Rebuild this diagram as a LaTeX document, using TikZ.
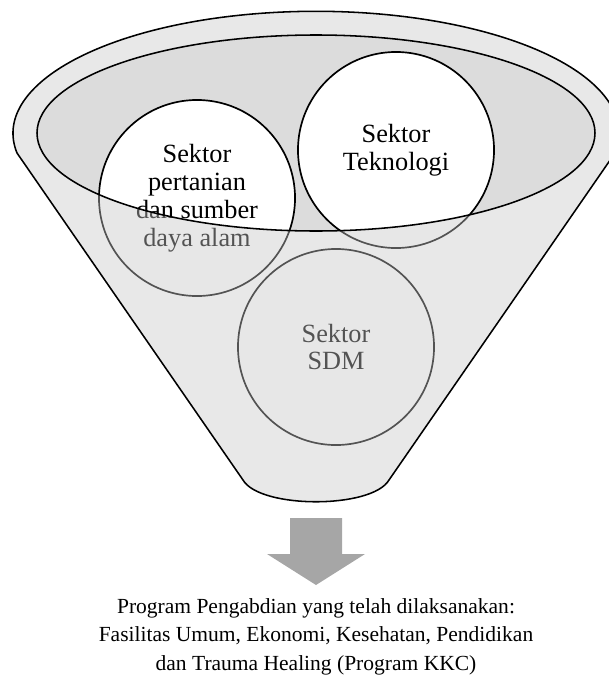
\documentclass[tikz,border=0pt]{standalone}
\usepackage{fontspec}
\setmainfont{Liberation Serif}
\usepackage{tikz}
\usetikzlibrary{positioning}

\definecolor{funnelin}{HTML}{DCDCDC}
\definecolor{funnelveil}{HTML}{C8C8C8}
\definecolor{arrowgray}{HTML}{A6A6A6}

\begin{document}
\begin{tikzpicture}[x=0.025cm, y=-0.025cm,
  sektor/.style={circle, draw=black, line width=1.2pt, fill=white, minimum size=4.9cm, inner sep=0pt, align=center, font=\fontsize{18.7}{19.9}\selectfont},
  veil/.style={fill=funnelveil, fill opacity=0.42},
  rim/.style={draw=black, line width=1.1pt}]

\useasboundingbox (0,0) rectangle (609,677);

\begin{scope}
\clip (0,0) rectangle (609,677);

% inner ellipse, back
\fill[funnelin] (316,133) ellipse [x radius=279, y radius=98];

% sectors
{
\node[sektor] (pertanian) at (197,198) {Sektor\\pertanian\\dan sumber\\daya alam};
\node[sektor] (teknologi) at (396,150) {Sektor\\Teknologi};
\node[sektor] (sdm) at (336,347) {Sektor\\SDM};
}

% funnel body over the sectors
\fill[veil, even odd rule] (17,153) arc[start angle=170.7, end angle=369.3, x radius=303, y radius=122]
  -- (389,480) .. controls (372,509) and (260,509) .. (243,480) -- cycle
  (316,133) ellipse [x radius=279, y radius=98];

% outlines
\draw[rim] (17,153) arc[start angle=170.7, end angle=369.3, x radius=303, y radius=122]
  -- (389,480) .. controls (372,509) and (260,509) .. (243,480) -- cycle;
\draw[rim] (316,133) ellipse [x radius=279, y radius=98];
\end{scope}

% arrow
\fill[arrowgray] (290,518) -- (342,518) -- (342,554) -- (365,554) -- (316,585) -- (267,554) -- (290,554) -- cycle;

% result
\node[font=\fontsize{15.3}{20.3}\selectfont, align=center, inner sep=0pt] (program) at (316,636.5)
  {Program Pengabdian yang telah dilaksanakan:\\Fasilitas Umum, Ekonomi, Kesehatan, Pendidikan\\dan Trauma Healing (Program KKC)};

\end{tikzpicture}
\end{document}
